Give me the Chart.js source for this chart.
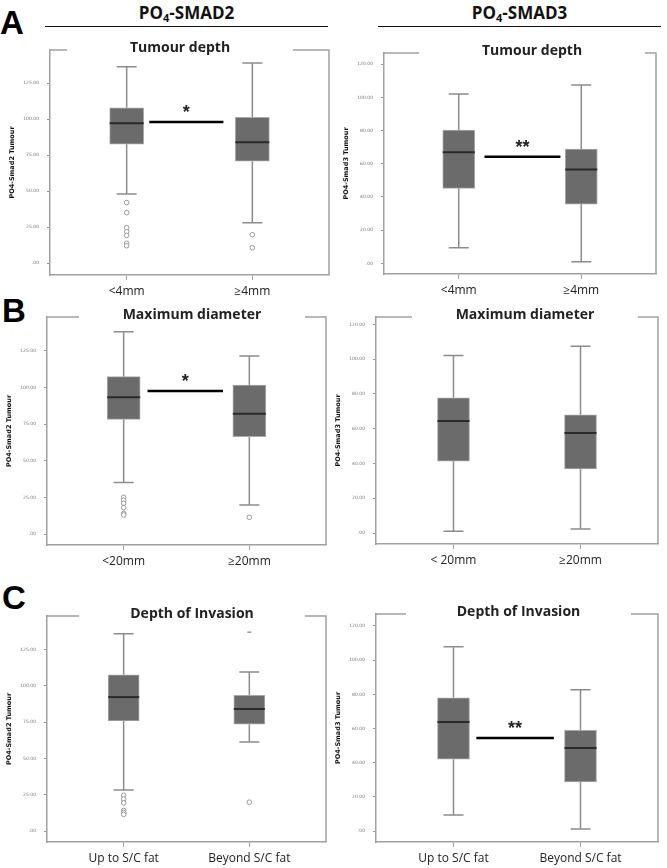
<!DOCTYPE html>
<html>
<head>
<meta charset="utf-8">
<script src="https://cdn.jsdelivr.net/npm/chart.js@4.4.0/dist/chart.umd.min.js"></script>
<style>
body { margin: 0; width: 667px; height: 868px; background: #fff; position: relative; overflow: hidden; }
.letter { position: absolute; font: bold 33px 'Liberation Sans', Arial, sans-serif; line-height: 33px; color: #000; }
.head { position: absolute; top: 4px; width: 283px; text-align: center; font: bold 17px 'Open Sans', sans-serif; line-height: 17px; color: #111; }
.head sub { font-size: 11px; vertical-align: -3px; line-height: 0; }
.rule { position: absolute; top: 26px; width: 283px; border-top: 1.5px solid #111; }
canvas { position: absolute; }
</style>
</head>
<body>
<div class="letter" style="left:0;top:6px">A</div>
<div class="letter" style="left:2px;top:294px">B</div>
<div class="letter" style="left:2px;top:581px">C</div>
<div class="head" style="left:45px">PO<sub>4</sub>-SMAD2</div>
<div class="head" style="left:378px">PO<sub>4</sub>-SMAD3</div>
<div class="rule" style="left:45px"></div>
<div class="rule" style="left:378px"></div>

<script>
// tick labels
var smad2Ticks = [0, 25, 50, 75, 100, 125];
var smad3Ticks = [0, 20, 40, 60, 80, 100, 120];

// category labels
var depthLabels = ['<4mm', '≥4mm'];
var diamLabels2 = ['<20mm', '≥20mm'];
var diamLabels3 = ['< 20mm', '≥20mm'];
var invasionLabels = ['Up to S/C fat', 'Beyond S/C fat'];

// box values: [lower whisker, Q1, median, Q3, upper whisker]
var smad2DepthUnder4 = [48, 82.6, 97.2, 107.8, 136.3];
var smad2DepthOver4 = [28, 70.8, 84, 101.2, 138.9];
var smad2DepthOutliers = [[42, 35, 24.5, 21.8, 19.2, 13.7, 12], [19.7, 10.6]];

var smad3DepthUnder4 = [9.4, 45.2, 66.9, 80.3, 102];
var smad3DepthOver4 = [1, 35.7, 56.6, 68.9, 107.4];

var smad2DiamUnder20 = [35.2, 78.2, 93.2, 107.3, 137.9];
var smad2DiamOver20 = [19.8, 66.4, 82, 101.6, 121.4];
var smad2DiamOutliers = [[25, 23, 21, 18, 14, 13], [11.4]];

var smad3DiamUnder20 = [1, 41.4, 64.5, 77.8, 102.2];
var smad3DiamOver20 = [2.3, 36.9, 57.5, 68, 107.5];

var smad2InvUpTo = [28.2, 75.8, 92.2, 107.6, 135.8];
var smad2InvBeyond = [61.3, 73.5, 84, 93.4, 109.4];
var smad2InvOutliers = [[24.7, 22, 19.4, 14.2, 12.8, 11.5], [19.9]];
var smad2InvExtremes = [[], [136.9]];

var smad3InvUpTo = [9.4, 42, 63.8, 78, 107.9];
var smad3InvBeyond = [1.2, 28.7, 48.6, 59, 82.7];

// significance bars: [level, stars]
var smad2DepthSig = [98, '*'];
var smad3DepthSig = [64.2, '**'];
var smad2DiamSig = [97.5, '*'];
var smad3InvSig = [54.4, '**'];

var AXIS_W = 48, PAD_T = 22, PAD_R = 4, XAXIS_H = 28;

var panels = [
    { L: 50, T: 50, R: 330, B: 275, yMin: -8.3, yMax: 148, ticks: smad2Ticks, yTitle: 'PO4-Smad2 Tumour',
      title: 'Tumour depth', gap: [17, 243], labels: depthLabels, groups: [smad2DepthUnder4, smad2DepthOver4],
      outliers: smad2DepthOutliers, sig: smad2DepthSig, sigX: [1.18, 1.77], barW: 34 },
    { L: 384, T: 53, R: 656, B: 274, yMin: -6.4, yMax: 126.7, ticks: smad3Ticks, yTitle: 'PO4-Smad3 Tumour',
      title: 'Tumour depth', gap: [35, 261], labels: depthLabels, groups: [smad3DepthUnder4, smad3DepthOver4],
      sig: smad3DepthSig, sigX: [1.21, 1.83], barW: 32 },
    { L: 47, T: 317, R: 327, B: 545, yMin: -7.5, yMax: 148, ticks: smad2Ticks, yTitle: 'PO4-Smad2 Tumour',
      title: 'Maximum diameter', gap: [32, 258], labels: diamLabels2, groups: [smad2DiamUnder20, smad2DiamOver20],
      outliers: smad2DiamOutliers, sig: smad2DiamSig, sigX: [1.19, 1.79], barW: 33 },
    { L: 376, T: 317, R: 658, B: 544, yMin: -6.3, yMax: 124.3, ticks: smad3Ticks, yTitle: 'PO4-Smad3 Tumour',
      title: 'Maximum diameter', gap: [36, 262], labels: diamLabels3, groups: [smad3DiamUnder20, smad3DiamOver20],
      barW: 32 },
    { L: 47, T: 616, R: 327, B: 842, yMin: -7.5, yMax: 148, ticks: smad2Ticks, yTitle: 'PO4-Smad2 Tumour',
      title: 'Depth of Invasion', gap: [32, 258], labels: invasionLabels, groups: [smad2InvUpTo, smad2InvBeyond],
      outliers: smad2InvOutliers, extremes: smad2InvExtremes, barW: 31 },
    { L: 376, T: 614, R: 658, B: 842, yMin: -6.4, yMax: 127, ticks: smad3Ticks, yTitle: 'PO4-Smad3 Tumour',
      title: 'Depth of Invasion', gap: [30, 255], labels: invasionLabels, groups: [smad3InvUpTo, smad3InvBeyond],
      sig: smad3InvSig, sigX: [1.18, 1.79], barW: 32 }
];

var boxPlugin = {
    id: 'boxWhisker',
    beforeDatasetsDraw: function(chart, args, opts) {
        var ctx = chart.ctx, xs = chart.scales.x, ys = chart.scales.y;
        ctx.save();
        ctx.strokeStyle = '#8c8c8c';
        ctx.lineWidth = 1.5;
        opts.groups.forEach(function(g, i) {
            var x = xs.getPixelForValue(i + 1);
            ctx.beginPath();
            ctx.moveTo(x, ys.getPixelForValue(g[0]));
            ctx.lineTo(x, ys.getPixelForValue(g[1]));
            ctx.moveTo(x, ys.getPixelForValue(g[3]));
            ctx.lineTo(x, ys.getPixelForValue(g[4]));
            ctx.moveTo(x - 10, ys.getPixelForValue(g[0]));
            ctx.lineTo(x + 10, ys.getPixelForValue(g[0]));
            ctx.moveTo(x - 10, ys.getPixelForValue(g[4]));
            ctx.lineTo(x + 10, ys.getPixelForValue(g[4]));
            ctx.stroke();
        });
        ctx.restore();
    },
    afterDatasetsDraw: function(chart, args, opts) {
        var ctx = chart.ctx, xs = chart.scales.x, ys = chart.scales.y;
        ctx.save();
        ctx.strokeStyle = '#2a2a2a';
        ctx.lineWidth = 2;
        opts.groups.forEach(function(g, i) {
            var x = xs.getPixelForValue(i + 1);
            var y = ys.getPixelForValue(g[2]);
            ctx.beginPath();
            ctx.moveTo(x - opts.barW / 2, y);
            ctx.lineTo(x + opts.barW / 2, y);
            ctx.stroke();
        });
        if (opts.sig) {
            var mx = xs.getPixelForValue((opts.sigX[0] + opts.sigX[1]) / 2);
            var my = ys.getPixelForValue(opts.sig[0]);
            ctx.fillStyle = '#222';
            ctx.font = 'bold 18px "Liberation Sans", Arial, sans-serif';
            ctx.textAlign = 'center';
            ctx.textBaseline = 'alphabetic';
            ctx.fillText(opts.sig[1], mx, my - 4);
        }
        ctx.restore();
    },
    afterDraw: function(chart, args, opts) {
        var ctx = chart.ctx, a = chart.chartArea;
        ctx.save();
        ctx.strokeStyle = '#a0a0a0';
        ctx.lineWidth = 1.5;
        ctx.beginPath();
        ctx.moveTo(a.left, a.top);
        ctx.lineTo(a.left + opts.gap[0], a.top);
        ctx.moveTo(a.left + opts.gap[1], a.top);
        ctx.lineTo(a.right, a.top);
        ctx.lineTo(a.right, a.bottom);
        ctx.stroke();
        ctx.fillStyle = '#222';
        ctx.font = 'bold 14px "Open Sans", sans-serif';
        ctx.textAlign = 'center';
        ctx.textBaseline = 'middle';
        ctx.fillText(opts.title, a.left + (opts.gap[0] + opts.gap[1]) / 2, a.top - 2);
        ctx.restore();
    }
};

function makeChart(p) {
    var canvas = document.createElement('canvas');
    var w = p.R - p.L + AXIS_W + PAD_R;
    var h = p.B - p.T + PAD_T + XAXIS_H;
    canvas.width = w;
    canvas.height = h;
    canvas.style.left = (p.L - AXIS_W) + 'px';
    canvas.style.top = (p.T - PAD_T) + 'px';
    canvas.style.width = w + 'px';
    canvas.style.height = h + 'px';
    document.body.appendChild(canvas);

    var datasets = [{
        type: 'bar',
        data: p.groups.map(function(g, i) { return { x: i + 1, y: [g[1], g[3]] }; }),
        backgroundColor: '#6b6b6b',
        borderColor: '#a8a8a8',
        borderWidth: 1,
        borderSkipped: false,
        barThickness: p.barW
    }];

    if (p.outliers) {
        var pts = [];
        p.outliers.forEach(function(list, i) {
            list.forEach(function(v) { pts.push({ x: i + 1, y: v }); });
        });
        datasets.push({
            type: 'line', showLine: false, data: pts,
            pointStyle: 'circle', pointRadius: 2.3,
            pointBorderColor: '#999', pointBackgroundColor: '#fff', pointBorderWidth: 1
        });
    }
    if (p.extremes) {
        var ext = [];
        p.extremes.forEach(function(list, i) {
            list.forEach(function(v) { ext.push({ x: i + 1, y: v }); });
        });
        datasets.push({
            type: 'line', showLine: false, data: ext,
            pointStyle: 'line', pointRadius: 2, pointBorderColor: '#666', pointBorderWidth: 1
        });
    }
    if (p.sig) {
        datasets.push({
            type: 'line',
            data: [{ x: p.sigX[0], y: p.sig[0] }, { x: p.sigX[1], y: p.sig[0] }],
            borderColor: '#000', borderWidth: 2.5, pointRadius: 0
        });
    }

    return new Chart(canvas, {
        type: 'bar',
        data: { datasets: datasets },
        plugins: [boxPlugin],
        options: {
            responsive: false,
            animation: false,
            layout: { padding: { top: PAD_T, right: PAD_R, left: 0, bottom: 0 } },
            plugins: {
                legend: { display: false },
                tooltip: { enabled: false },
                boxWhisker: { groups: p.groups, barW: p.barW, sig: p.sig, sigX: p.sigX, gap: p.gap, title: p.title }
            },
            scales: {
                x: {
                    type: 'linear', min: 0.39, max: 2.61, offset: false,
                    afterBuildTicks: function(s) { s.ticks = [{ value: 1 }, { value: 2 }]; },
                    afterFit: function(s) { s.height = XAXIS_H; },
                    border: { display: true, color: '#a0a0a0', width: 1.5 },
                    grid: { drawOnChartArea: false, offset: false, tickLength: 5, color: '#a0a0a0' },
                    ticks: {
                        autoSkip: false, maxRotation: 0, padding: 4, color: '#222',
                        font: { family: 'Open Sans', size: 12 },
                        callback: function(v) { return p.labels[v - 1]; }
                    }
                },
                y: {
                    min: p.yMin, max: p.yMax,
                    afterBuildTicks: function(s) { s.ticks = p.ticks.map(function(v) { return { value: v }; }); },
                    afterFit: function(s) { s.width = AXIS_W; },
                    border: { display: true, color: '#a0a0a0', width: 1.5 },
                    grid: { drawOnChartArea: false, tickLength: 3, color: '#999' },
                    title: {
                        display: true, text: p.yTitle, color: '#111', padding: { top: 6, bottom: 0 },
                        font: { family: 'DejaVu Sans', size: 6.5, weight: 'bold' }
                    },
                    ticks: {
                        padding: 8, color: '#777',
                        font: { family: 'DejaVu Sans', size: 4.5 },
                        callback: function(v) { return v === 0 ? '.00' : v.toFixed(2); }
                    }
                }
            }
        }
    });
}

panels.forEach(makeChart);
</script>
</body>
</html>
